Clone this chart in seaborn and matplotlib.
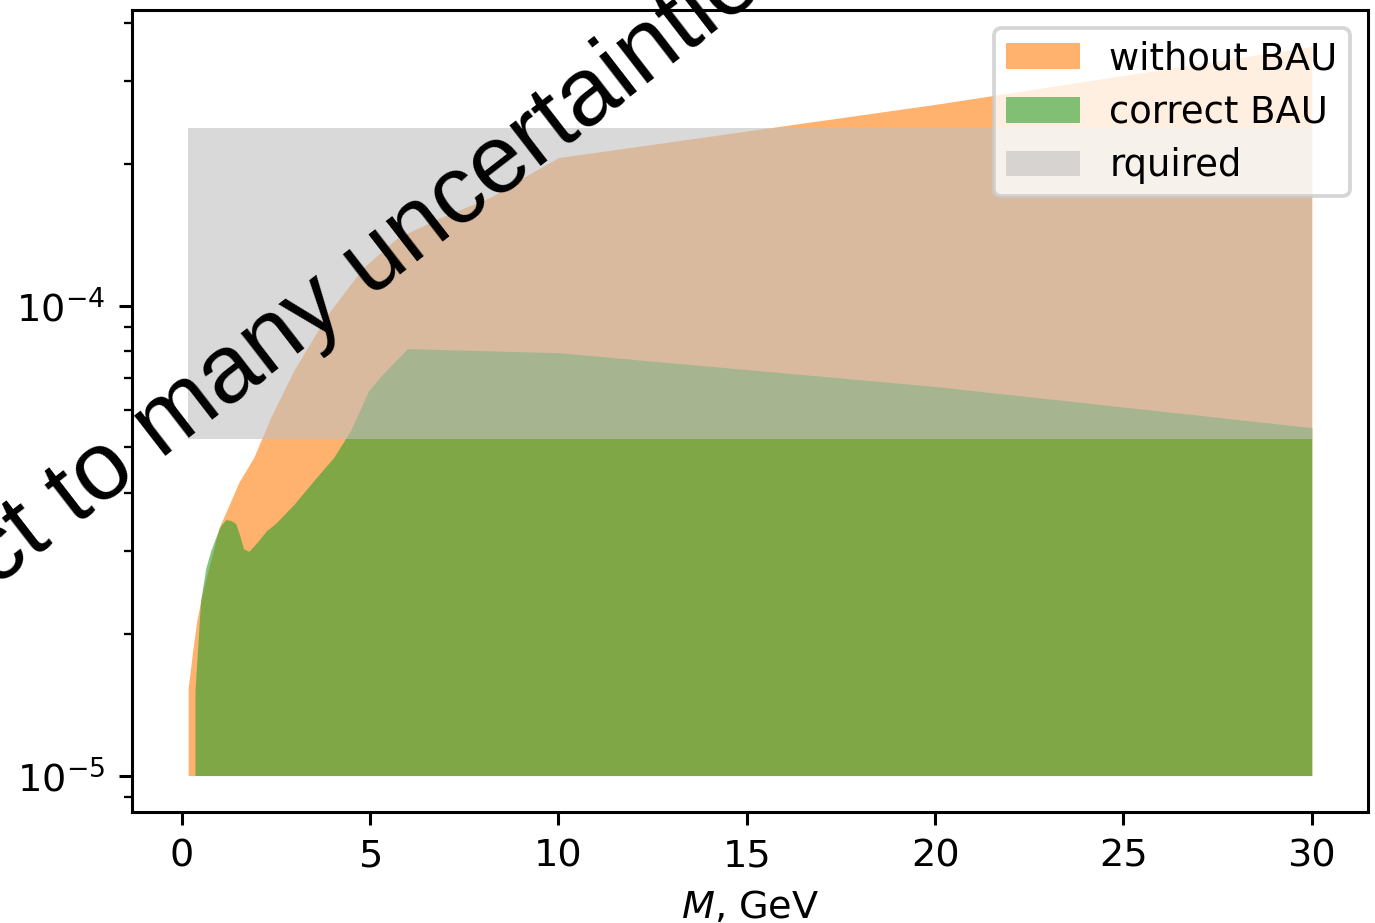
import matplotlib
matplotlib.use("Agg")
import matplotlib.pyplot as plt
import seaborn as sns

# Upper edge of the allowed region without the BAU constraint
mass_without = [0.17, 0.21, 0.29, 0.40, 0.53, 0.66, 0.82, 0.98, 1.25, 1.51,
                1.91, 2.36, 2.97, 3.61, 3.95, 4.82, 5.73, 6.87, 8.19, 9.25,
                10.0, 20.0, 30.0]
mixing_without = [1.54e-5, 1.63e-5, 1.845e-5, 2.14e-5, 2.415e-5, 2.66e-5,
                  2.97e-5, 3.355e-5, 3.754e-5, 4.20e-5, 4.75e-5, 5.78e-5,
                  7.27e-5, 8.85e-5, 9.76e-5, 1.205e-4, 1.395e-4, 1.539e-4,
                  1.70e-4, 1.91e-4, 2.065e-4, 2.68e-4, 3.56e-4]

# Upper edge of the allowed region with the correct BAU
mass_bau = [0.35, 0.40, 0.45, 0.50, 0.64, 0.77, 0.90, 1.03, 1.17, 1.30,
            1.43, 1.54, 1.64, 1.78, 1.99, 2.25, 2.49, 2.97, 3.50, 4.03,
            4.48, 4.96, 5.35, 5.99, 10.0, 20.0, 30.0]
mixing_bau = [1.517e-5, 1.757e-5, 2.035e-5, 2.357e-5, 2.77e-5, 3.01e-5,
              3.21e-5, 3.40e-5, 3.505e-5, 3.49e-5, 3.44e-5, 3.24e-5,
              3.04e-5, 3.00e-5, 3.13e-5, 3.32e-5, 3.44e-5, 3.77e-5,
              4.24e-5, 4.75e-5, 5.42e-5, 6.59e-5, 7.17e-5, 8.10e-5,
              7.94e-5, 6.73e-5, 5.50e-5]

# Required band
required_mass = [0.17, 30.0]
required_low = 5.19e-5
required_high = 2.39e-4

floor_value = 1e-5
labels = ["without BAU", "correct BAU", "rquired"]

palette = sns.color_palette("tab10")
orange, green = palette[1], palette[2]

fig = plt.figure(figsize=(5.0, 923 / 275), dpi=275)
ax = fig.add_axes([132 / 1375, 1 - 812 / 923, (1368 - 132) / 1375, (812 - 10) / 923])

ax.fill_between(mass_without, floor_value, mixing_without, color=orange,
                alpha=0.6, linewidth=0, label=labels[0])
ax.fill_between(mass_bau, floor_value, mixing_bau, color=green,
                alpha=0.6, linewidth=0, label=labels[1])
ax.fill_between(required_mass, required_low, required_high, color="silver",
                alpha=0.6, linewidth=0, label=labels[2])

ax.set_yscale("log")
ax.set_xlabel("$M$, GeV")
ax.legend(loc="upper right", fontsize=9.66, labelspacing=0.45, borderpad=0.32)

fig.text(308 / 1375, 1 - 346 / 923, "subject to many uncertainties",
         rotation=37.7, rotation_mode="anchor", ha="center", va="baseline",
         fontsize=25.4, family="Liberation Sans", color="black")

fig.savefig("out.png", dpi=275)
